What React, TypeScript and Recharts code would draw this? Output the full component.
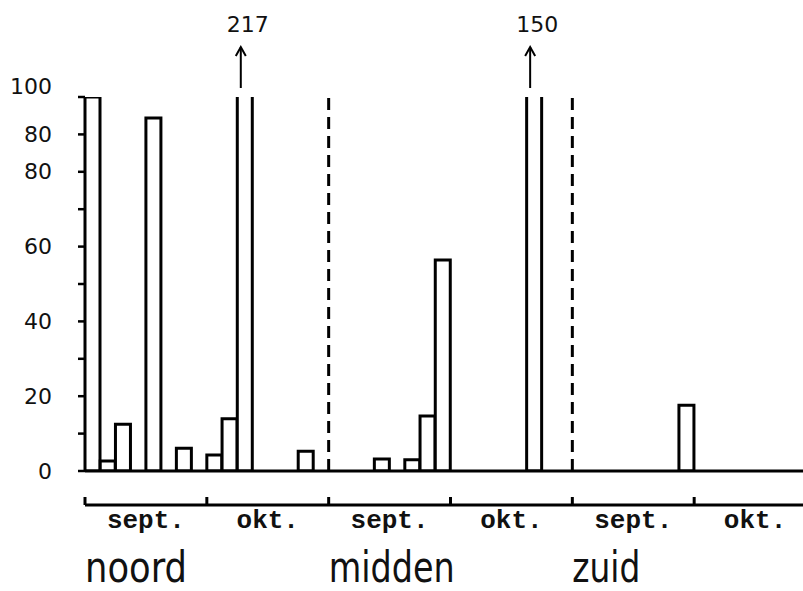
import { BarChart, Bar, XAxis, YAxis, ReferenceLine, LabelList } from "recharts";

const regions = ["noord", "midden", "zuid"];
const months = ["sept.", "okt."];
const periodsPerMonth = 8;

// 8 periods per month, sept. then okt.
const noord = [100, 2.7, 12.5, null, 94.4, null, 6.1, null, 4.3, 14, 217, null, null, null, 5.3, null];
const midden = [null, null, null, 3.2, null, 3, 14.7, 56.4, null, null, null, null, null, 150, null, null];
const zuid = [null, null, null, null, null, null, null, 17.6, null, null, null, null, null, null, null, null];

const yTicks = [0, 10, 20, 30, 40, 50, 60, 70, 80, 90, 100];
const yTickLabels = ["0", "", "20", "", "40", "", "60", "", "80", "80", "100"];

const slotsPerRegion = months.length * periodsPerMonth;
const totalSlots = regions.length * slotsPerRegion;
const monthTicks = Array.from({ length: totalSlots / 4 + 1 }, (_, i) => i * 4);

const data = [noord, midden, zuid].flatMap((vals, r) =>
  vals.map((v, i) => ({
    slot: `${regions[r]}-${i}`,
    pos: r * slotsPerRegion + i,
    value: v,
  }))
);

const regionWidth: Record<string, number> = { noord: 102, midden: 126, zuid: 68 };

function YTick(props: any) {
  const { x, y, payload, index } = props;
  const label = yTickLabels[index];
  if (!label) return null;
  return (
    <text
      x={x}
      y={payload.value === 100 ? y - 11 : y}
      textAnchor="end"
      dominantBaseline="central"
      fontFamily="DejaVu Sans"
      fontSize={22}
      fill="#111"
    >
      {label}
    </text>
  );
}

function MonthTick(props: any) {
  const { x, y, payload } = props;
  const v = payload.value as number;
  if (v % periodsPerMonth === 0) {
    const r = v / slotsPerRegion;
    const name = Number.isInteger(r) ? regions[r] : undefined;
    return (
      <g>
        <line x1={x} x2={x} y1={y} y2={y - 8} stroke="#000" strokeWidth={3} />
        {name && (
          <text
            x={x}
            y={y + 77}
            fontFamily="DejaVu Sans"
            fontSize={43}
            textLength={regionWidth[name]}
            lengthAdjust="spacingAndGlyphs"
            fill="#111"
          >
            {name}
          </text>
        )}
      </g>
    );
  }
  const m = months[((v - periodsPerMonth / 2) / periodsPerMonth) % months.length];
  return (
    <text
      x={x}
      y={y + 23}
      textAnchor="middle"
      fontFamily="Liberation Mono"
      fontWeight="bold"
      fontSize={26}
      fill="#111"
    >
      {m}
    </text>
  );
}

function OverflowArrow(props: any) {
  const { x, y, width, height, value } = props;
  if (value == null || value <= 100) return null;
  const bottom = y + height;
  const top100 = bottom - (height * 100) / value;
  const cx = x + width / 2 - 4;
  const y1 = top100 - 9;
  const y2 = y1 - 41;
  return (
    <g>
      <line x1={cx} x2={cx} y1={y1} y2={y2} stroke="#000" strokeWidth={2} />
      <path d={`M${cx - 5},${y2 + 9} L${cx},${y2} L${cx + 5},${y2 + 9}`} fill="none" stroke="#000" strokeWidth={2} />
      <text x={cx + 7} y={y2 - 15} textAnchor="middle" fontFamily="DejaVu Sans" fontSize={22} fill="#111">
        {value}
      </text>
    </g>
  );
}

export default function App() {
  return (
    <div
      style={{
        position: "absolute",
        left: 0,
        top: 0,
        width: 803,
        height: 591,
        overflow: "hidden",
        background: "#fff",
      }}
    >
      <BarChart
        width={830}
        height={591}
        data={data}
        margin={{ top: 97, right: 14, bottom: 0, left: 0 }}
        barCategoryGap={0}
        barGap={0}
      >
        <XAxis
          xAxisId="a"
          dataKey="slot"
          height={34}
          tick={false}
          tickLine={false}
          axisLine={{ stroke: "#000", strokeWidth: 3 }}
        />
        <XAxis
          xAxisId="b"
          dataKey="pos"
          type="number"
          domain={[0, totalSlots]}
          allowDataOverflow
          ticks={monthTicks}
          interval={0}
          height={86}
          tickSize={0}
          tickMargin={0}
          tickLine={false}
          tick={<MonthTick />}
          axisLine={{ stroke: "#000", strokeWidth: 3 }}
        />
        <YAxis
          yAxisId="v"
          domain={[0, 100]}
          allowDataOverflow
          ticks={yTicks}
          interval={0}
          width={85}
          axisLine={false}
          tickSize={7}
          tickMargin={26}
          tickLine={{ stroke: "#000", strokeWidth: 2.5 }}
          tick={<YTick />}
        />
        <ReferenceLine
          xAxisId="b"
          yAxisId="v"
          x={slotsPerRegion}
          stroke="#000"
          strokeWidth={3}
          strokeDasharray="12 7"
        />
        <ReferenceLine
          xAxisId="b"
          yAxisId="v"
          x={slotsPerRegion * 2}
          stroke="#000"
          strokeWidth={3}
          strokeDasharray="12 7"
        />
        <Bar
          xAxisId="a"
          yAxisId="v"
          dataKey="value"
          fill="#fff"
          stroke="#000"
          strokeWidth={3}
          isAnimationActive={false}
        >
          <LabelList dataKey="value" content={<OverflowArrow />} />
        </Bar>
      </BarChart>
    </div>
  );
}
